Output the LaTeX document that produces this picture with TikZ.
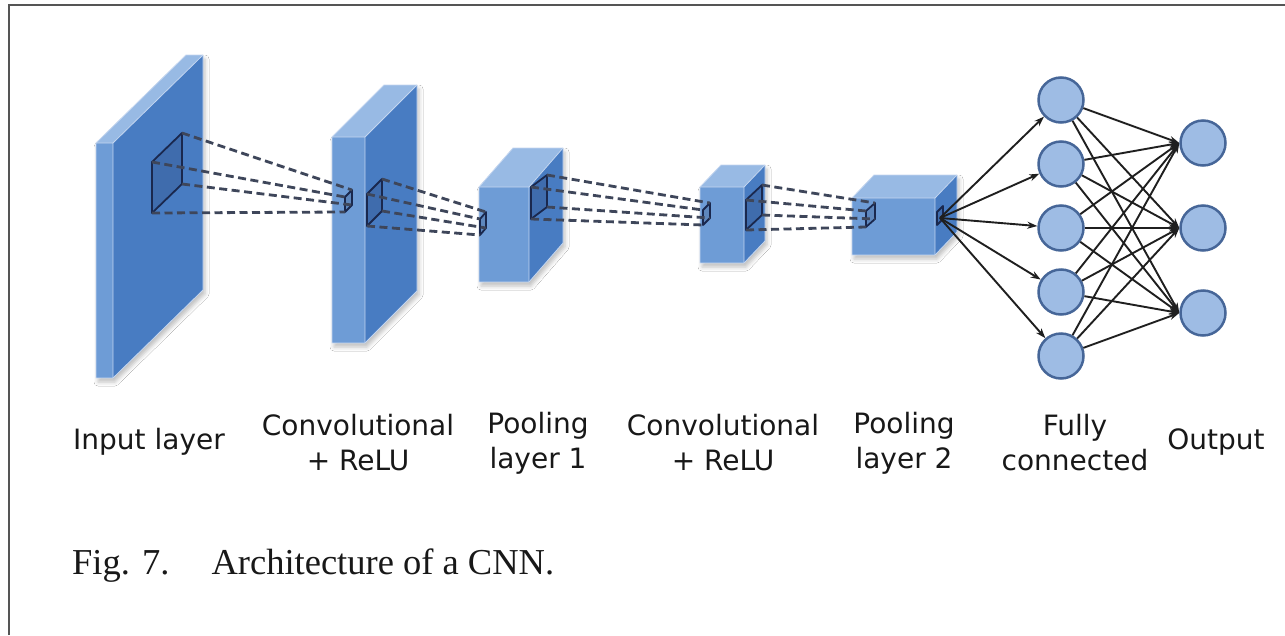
\documentclass[tikz,border=0pt]{standalone}
\usepackage{fontspec}
\setmainfont{Liberation Serif}
\newfontfamily\labelfont{DejaVu Sans}
\usetikzlibrary{arrows.meta,shadows.blur}

\definecolor{sideC}{RGB}{72,124,194}
\definecolor{frontC}{RGB}{110,156,214}
\definecolor{topC}{RGB}{152,186,228}
\definecolor{edgeC}{RGB}{196,214,240}
\definecolor{kernC}{RGB}{26,40,78}
\definecolor{dashC}{RGB}{62,70,90}
\definecolor{nodeFill}{RGB}{158,188,228}
\definecolor{nodeEdge}{RGB}{70,102,152}
\definecolor{frameC}{RGB}{85,85,85}
\definecolor{textC}{RGB}{24,24,24}

% 3-D layer block: front rectangle (x1,y1)-(x2,y2), depth offset (dx,dy)
\newcommand\cnnbox[6]{%
  \fill[white, blur shadow={shadow xshift=2pt, shadow yshift=-4pt, shadow blur radius=4pt, shadow opacity=25}]
    (#1,#4) -- (#1,#2) -- ++(#5,#6) -- ++(#3-#1,0) -- ++(0,#4-#2) -- (#3,#4) -- cycle;
  \fill[frontC] (#1,#2) rectangle (#3,#4);
  \fill[topC] (#1,#2) -- ++(#5,#6) -- ++(#3-#1,0) -- (#3,#2) -- cycle;
  \fill[sideC] (#3,#2) -- ++(#5,#6) -- ++(0,#4-#2) -- (#3,#4) -- cycle;
  \draw[faceedge] (#1,#4) -- (#1,#2) -- ++(#5,#6) -- ++(#3-#1,0) -- ++(0,#4-#2) -- (#3,#4) -- cycle;
  \draw[faceedge] (#1,#2) -- (#3,#2) -- ++(#5,#6) (#3,#2) -- (#3,#4);
}
% receptive field window: name, front x, front top y, back x, back top y, height
\newcommand\kwin[6]{%
  \coordinate (#1-ft) at (#2,#3);
  \coordinate (#1-bt) at (#4,#5);
  \coordinate (#1-fb) at (#2,#3+#6);
  \coordinate (#1-bb) at (#4,#5+#6);
  \fill[kernC, opacity=0.18] (#1-ft) -- (#1-bt) -- (#1-bb) -- (#1-fb) -- cycle;
  \draw[kernel] (#1-ft) -- (#1-bt) -- (#1-bb) -- (#1-fb) -- cycle;
}

\tikzset{
  faceedge/.style={draw=edgeC, line width=0.8pt, line join=round},
  kernel/.style={draw=kernC, line width=1.8pt, line join=round},
  proj/.style={draw=dashC, line width=2.8pt, dash pattern=on 8pt off 4.5pt},
  neuron/.style={circle, minimum size=45pt, inner sep=0pt, fill=nodeFill, draw=nodeEdge, line width=2.5pt},
  link/.style={draw=black!88, line width=1.9pt, -{Stealth[length=10pt,width=7pt]}},
  lbl/.style={text=textC, align=center, font=\labelfont\fontsize{28}{35}\selectfont},
}

\begin{document}
\begin{tikzpicture}[x=1pt,y=-1pt]
\useasboundingbox (0,0) rectangle (1285,635);
\fill[white] (0,0) rectangle (1285,635);

% page frame
\draw[frameC, line width=2.5pt] (9,635) -- (9,5) -- (1285,5);

% layer blocks
\cnnbox{96}{143}{113}{378}{90}{-88}
\cnnbox{332}{137}{365}{343}{52}{-52}
\cnnbox{479}{187}{529}{282}{34}{-39}
\cnnbox{700}{187}{744}{263}{21}{-22}
\cnnbox{852}{198}{935}{255}{22}{-23}

% windows on the block faces
\kwin{k0}{152}{162}{182}{133}{51}
\kwin{t1}{345}{197}{352}{190}{15}
\kwin{k1}{367}{194}{382}{179}{32}
\kwin{t2}{480}{219}{486}{212}{16}
\kwin{k2}{531}{187}{547}{175}{32}
\kwin{t3}{703}{210}{710}{203}{15}
\kwin{k3}{746}{200}{762}{185}{30}
\kwin{t4}{866}{211}{875}{203}{16}
\kwin{k4}{937}{212}{943}{206}{13}

% projections between windows
\foreach \a/\b in {k0/t1, k1/t2, k2/t3, k3/t4}{
  \draw[proj] (\a-bt) -- (\b-bt);
  \draw[proj] (\a-ft) -- (\b-ft);
  \draw[proj] (\a-bb) -- (\b-bb);
  \draw[proj] (\a-fb) -- (\b-fb);
}

% fully connected part
\coordinate (src) at (940,218);
\foreach \i/\y in {1/100, 2/164, 3/228, 4/292, 5/356}
  \node[neuron] (fc\i) at (1061,\y) {};
\foreach \j/\y in {1/143, 2/228, 3/313}
  \node[neuron] (out\j) at (1203,\y) {};
\foreach \i in {1,...,5}
  \draw[link] (src) -- (fc\i);
\foreach \i in {1,...,5}
  \foreach \j in {1,2,3}
    \draw[link] (fc\i) -- (out\j.west);

% layer captions
\node[lbl] (l0) at (149,442) {Input layer};
\node[lbl] (l1) at (358,443) {Convolutional\\+ ReLU};
\node[lbl] (l2) at (538,443) {Pooling\\layer 1};
\node[lbl] (l3) at (723,443) {Convolutional\\+ ReLU};
\node[lbl] (l4) at (904,443) {Pooling\\layer 2};
\node[lbl] (l5) at (1075,443) {Fully\\connected};
\node[lbl] (l6) at (1216,442) {Output};

% figure caption
\node[anchor=base west, inner sep=0pt, text=textC, font=\fontsize{36.5}{40}\selectfont] (cap) at (72,574)
  {Fig. 7.\hspace{42pt}Architecture of a CNN.};
\end{tikzpicture}
\end{document}
